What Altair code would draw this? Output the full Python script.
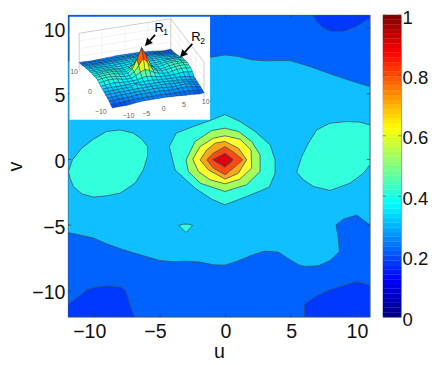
import altair as alt
import pandas as pd

# ---- axes and ticks
x_ticks = [-10, -5, 0, 5, 10]
y_ticks = [-10, -5, 0, 5, 10]
bar_ticks = [0, 0.2, 0.4, 0.6, 0.8, 1]

# ---- contour regions (u, v), painted in order
c_base = "#0062ff"
c_light = "#0fbfff"
c_aqua = "#33ffdd"
c_green = "#a3ff5c"
c_yellow = "#ffff2e"
c_orange = "#ffa51a"
c_redor = "#ff4a10"
c_red = "#dc0010"
c_dark = "#0038ff"

frame = [(-12, -12), (11, -12), (11, 11), (-12, 11)]
light_band = [(-12, -5.56), (-10.06, -5.99), (-9.05, -6.43), (-7.78, -6.88), (-6.26, -7.34), (-4.99, -7.70),
              (-3.97, -7.80), (-2.96, -7.75), (-1.94, -7.82), (-0.93, -8.03), (-0.04, -8.05), (0.85, -7.77),
              (1.87, -7.34), (3.0, -6.98), (4.02, -7.06), (4.91, -7.64), (5.55, -8.02), (6.05, -8.15),
              (7.07, -8.10), (7.96, -7.70), (8.67, -7.01), (8.59, -6.0), (8.41, -4.98), (8.97, -4.55),
              (9.99, -4.24), (10.98, -4.98), (11, -4.98), (11, 5.53), (10.95, 5.55), (9.48, 6.01), (8.21, 6.44),
              (6.43, 7.07), (4.91, 7.53), (3.13, 7.51), (1.99, 7.59), (0.98, 7.84), (-0.04, 7.96), (-1.13, 7.78),
              (-3, 7.5), (-12, 7.5)]
dark_bl = [(-12, -11.02), (-11.33, -10.56), (-10.57, -9.93), (-9.94, -9.73), (-9.05, -9.62), (-7.91, -9.73),
           (-7.58, -10.06), (-7.27, -11.07), (-6.92, -12), (-12, -12)]
dark_br = [(6.0, -12), (6.0, -11.02), (6.94, -10.38), (7.96, -9.93), (8.97, -9.6), (9.99, -9.29), (10.98, -9.57),
           (11, -9.57), (11, -12)]
dark_tr = [(6.64, 11), (6.94, 10.5), (7.45, 10.0), (8.08, 9.74), (8.97, 9.74), (9.98, 10.12), (10.75, 10.63),
           (11, 10.7), (11, 11)]
tri = [(-3.57, -5.03), (-3.21, -4.93), (-2.83, -4.93), (-2.5, -5.03), (-3.01, -5.56)]
blob_r = [(5.42, -0.97), (5.80, 0.22), (6.31, 1.24), (6.94, 2.25), (7.96, 2.76), (9.23, 2.89), (10.24, 2.84),
          (11, 2.63), (11, -0.41), (10.49, -1.05), (9.48, -1.81), (7.96, -2.36), (6.69, -2.06), (5.93, -1.55)]
blob_l = [(-11.97, -0.92), (-11.66, -0.03), (-10.95, 0.86), (-10.06, 1.54), (-9.05, 2.13), (-8.03, 2.25),
          (-7.02, 2.0), (-6.38, 1.54), (-5.93, 0.98), (-5.95, 0.22), (-6.26, -0.79), (-6.89, -1.81), (-8.03, -2.57),
          (-9.05, -2.77), (-10.06, -2.87), (-10.95, -2.62), (-11.59, -2.06), (-11.84, -1.43)]
peak_aqua = [(-0.04, 3.42), (-1.18, 2.96), (-2.45, 2.51), (-3.77, 2.0), (-4.28, 0.98), (-3.85, -0.79), (-2.32, -2.19),
             (-1.05, -3.03), (-0.04, -3.46), (1.61, -2.82), (3.34, -2.11), (3.77, -1.05), (3.77, -0.03), (3.39, 1.11),
             (2.25, 2.13), (1.10, 2.89)]
peak_green = [(-0.04, 2.38), (-1.05, 2.2), (-2.32, 1.37), (-3.01, -0.03), (-2.83, -0.92), (-1.94, -1.81),
              (-0.04, -2.44), (1.61, -1.93), (2.63, -0.92), (2.63, 0.35), (1.99, 1.37), (0.98, 2.13)]
peak_yellow = [(-0.04, 1.8), (-0.93, 1.62), (-1.94, 0.98), (-2.5, 0.02), (-2.07, -0.92), (-1.18, -1.55),
               (-0.04, -1.86), (1.10, -1.5), (1.99, -0.66), (1.94, 0.73), (1.10, 1.54)]
peak_orange = [(-0.04, 1.37), (-0.80, 1.24), (-1.43, 0.73), (-1.94, -0.03), (-1.31, -0.79), (-0.04, -1.5),
               (0.98, -1.05), (1.61, -0.03), (0.98, 0.86)]
peak_redor = [(-0.04, 0.98), (-0.93, 0.48), (-1.43, -0.03), (-0.93, -0.66), (-0.04, -1.17), (0.6, -0.66),
              (1.31, -0.03), (0.72, 0.48)]
peak_red = [(-0.04, 0.48), (-1, -0.03), (-0.04, -0.59), (0.6, -0.03)]

regions = [(frame, c_base), (light_band, c_light), (dark_bl, c_dark), (dark_br, c_dark), (dark_tr, c_dark),
           (tri, c_aqua), (blob_r, c_aqua), (blob_l, c_aqua), (peak_aqua, c_aqua), (peak_green, c_green),
           (peak_yellow, c_yellow), (peak_orange, c_orange), (peak_redor, c_redor), (peak_red, c_red)]

# ---- inset surface: z values, rows v = 10 .. -10, columns u = -10 .. 10
z_rows = [
    [.24, .24, .23, .23, .24, .24, .25, .25, .26, .26, .26, .26, .26, .26, .25, .24, .23, .22, .20, .20, .21],
    [.25, .25, .25, .25, .25, .25, .26, .26, .27, .27, .27, .27, .27, .27, .26, .25, .24, .23, .22, .22, .22],
    [.27, .27, .27, .27, .27, .27, .28, .28, .29, .29, .30, .29, .29, .29, .29, .28, .27, .26, .25, .24, .24],
    [.30, .30, .30, .30, .30, .31, .31, .31, .32, .32, .33, .32, .32, .32, .32, .31, .30, .29, .28, .27, .26],
    [.32, .32, .32, .32, .33, .33, .33, .33, .34, .34, .35, .34, .34, .34, .34, .33, .33, .32, .31, .30, .28],
    [.34, .34, .34, .34, .34, .34, .34, .35, .35, .36, .36, .36, .36, .35, .35, .35, .35, .34, .33, .32, .31],
    [.35, .35, .36, .36, .36, .36, .35, .35, .36, .37, .38, .37, .36, .36, .36, .36, .36, .35, .35, .34, .33],
    [.37, .37, .38, .38, .38, .37, .36, .35, .37, .39, .41, .39, .37, .36, .36, .37, .38, .39, .39, .39, .38],
    [.38, .39, .40, .41, .41, .40, .38, .36, .40, .46, .52, .47, .41, .36, .37, .38, .40, .41, .41, .41, .40],
    [.39, .41, .42, .43, .43, .41, .38, .37, .44, .58, .72, .60, .46, .38, .37, .39, .42, .43, .43, .43, .41],
    [.41, .42, .43, .44, .43, .41, .38, .39, .48, .72, 1.0, .78, .50, .39, .37, .38, .41, .43, .44, .44, .43],
    [.40, .42, .43, .43, .42, .40, .38, .38, .46, .60, .78, .64, .46, .40, .38, .39, .41, .43, .44, .44, .41],
    [.38, .40, .42, .42, .41, .38, .37, .37, .42, .49, .54, .50, .43, .39, .37, .36, .39, .41, .42, .42, .40],
    [.35, .36, .38, .38, .37, .36, .36, .36, .37, .40, .42, .40, .37, .36, .35, .35, .36, .37, .38, .37, .36],
    [.33, .34, .34, .34, .34, .34, .35, .35, .36, .36, .37, .36, .35, .34, .34, .33, .34, .33, .32, .30, .29],
    [.31, .31, .32, .32, .33, .33, .34, .40, .34, .34, .34, .34, .34, .34, .33, .32, .32, .31, .29, .28, .28],
    [.29, .30, .30, .31, .31, .32, .32, .33, .33, .33, .33, .33, .33, .33, .32, .31, .31, .31, .30, .27, .26],
    [.27, .27, .28, .29, .30, .30, .31, .31, .31, .31, .32, .32, .32, .30, .30, .30, .31, .31, .30, .27, .25],
    [.25, .25, .26, .26, .27, .28, .29, .30, .30, .30, .30, .30, .29, .28, .28, .29, .30, .30, .28, .26, .24],
    [.21, .22, .22, .23, .24, .25, .26, .26, .26, .26, .26, .26, .26, .25, .25, .25, .25, .25, .24, .23, .22],
    [.18, .19, .19, .19, .20, .22, .23, .24, .24, .24, .24, .24, .24, .23, .23, .22, .21, .21, .20, .19, .20],
]

# inset placement: floor corners of the 3-D box and height of z = 1, in the main chart's (u, v) units
floor_front = (-8.62, 3.39)
floor_right = (-1.64, 4.49)
floor_left = (-11.15, 6.69)
z_rise = 2.92
inset_box = (-11.88, 3.02, -1.18, 10.86)

inset_labels = [("10", -11.54, 6.69), ("0", -10.32, 5.12), ("\u221210", -9.5, 3.65), ("\u221210", -7.4, 3.27),
                ("\u22125", -6.05, 3.47), ("0", -4.71, 3.83), ("5", -3.16, 4.11), ("10", -1.51, 4.36)]
call_main = [("R", -5.06, 10.0), ("R", -2.25, 9.36)]
call_sub = [("1", -4.56, 9.67), ("2", -1.74, 9.03)]
arrows = [((-5.37, 9.49), (-6.13, 8.65)), ((-2.53, 8.8), (-3.46, 7.79))]


def jet(t):
    t = max(0.0, min(1.0, t))
    def ch(c):
        return max(0.0, min(1.0, 1.5 - abs(4 * t - c)))
    r, g, b = ch(3), ch(2), ch(1)
    return "#%02x%02x%02x" % (round(r * 255), round(g * 255), round(b * 255))


def proj(xv, yv, z=0.0):
    a = (xv + 10) / 20
    b = (yv + 10) / 20
    u = floor_front[0] + a * (floor_right[0] - floor_front[0]) + b * (floor_left[0] - floor_front[0])
    v = floor_front[1] + a * (floor_right[1] - floor_front[1]) + b * (floor_left[1] - floor_front[1]) + z * z_rise
    return u, v


def poly_frame(polys, stroke):
    rows = []
    for k, (pts, fill) in enumerate(polys):
        for i, (u, v) in enumerate(pts):
            rows.append(dict(poly=k, i=i, u=u, v=v, fill=fill, stroke=stroke))
    return pd.DataFrame(rows)


XS = alt.Scale(domain=[-12, 11], nice=False, zero=False)
YS = alt.Scale(domain=[-12, 11], nice=False, zero=False)
LBL = 19.6
AX = alt.Axis(values=x_ticks, grid=False, domain=False, ticks=False, labelFontSize=LBL, titleFontSize=LBL,
              labelFont="Liberation Sans", titleFont="Liberation Sans", labelColor="#111", titleColor="#111",
              labelPadding=5, titlePadding=2, titleFontWeight="normal", labelFlush=False,
              labelOffset={"condition": {"test": "datum.value < 0", "value": -5}, "value": 0})
AY = alt.Axis(values=y_ticks, grid=False, domain=False, ticks=False, labelFontSize=LBL, titleFontSize=LBL,
              labelFont="Liberation Sans", titleFont="Liberation Sans", labelColor="#111", titleColor="#111",
              labelPadding=3, titlePadding=6, titleFontWeight="normal", labelFlush=False, labelOffset=2)


def X(field):
    return alt.X(field, scale=XS, axis=AX, title="u")


def Y(field):
    return alt.Y(field, scale=YS, axis=AY, title="v")


def poly_layer(df, width, clip=True, **kw):
    return alt.Chart(df).mark_line(interpolate="linear-closed", strokeWidth=width, clip=clip, **kw).encode(
        x=X("u:Q"),
        y=Y("v:Q"),
        detail="poly:N",
        fill=alt.Fill("fill:N", scale=None),
        stroke=alt.Stroke("stroke:N", scale=None),
        order=alt.Order("i:Q"),
    )


def rule_layer(rows, color, width):
    df = pd.DataFrame(rows, columns=["x", "y", "x2", "y2"])
    return alt.Chart(df).mark_rule(color=color, strokeWidth=width).encode(
        x=X("x:Q"), x2="x2:Q",
        y=Y("y:Q"), y2="y2:Q",
    )


def text_layer(items, size, color):
    df = pd.DataFrame(items, columns=["t", "u", "v"])
    return alt.Chart(df).mark_text(fontSize=size, color=color, font="Liberation Sans").encode(
        x=X("u:Q"), y=Y("v:Q"), text="t:N",
    )


contours = poly_layer(poly_frame(regions, "#33556e"), 0.8)

# ticks on all four sides, pointing inward
tick_len = 0.24
tick_rows = []
for t in x_ticks:
    tick_rows += [(t, -12, t, -12 + tick_len), (t, 11, t, 11 - tick_len)]
for t in y_ticks:
    tick_rows += [(-12, t, -12 + tick_len, t), (11, t, 11 - tick_len, t)]
ticks = rule_layer(tick_rows, "#333", 0.7)

# inset
x0, y0, x1, y1 = inset_box
white = poly_layer(poly_frame([([(x0, y0), (x1, y0), (x1, y1), (x0, y1)], "#ffffff")], "#ffffff"), 0)

bk = proj(10, 10)
l_f, r_f = proj(-10, 10), proj(10, -10)
l_t, r_t, b_t = proj(-10, 10, 1), proj(10, -10, 1), proj(10, 10, 1)
box_rows = [(*l_f, *l_t), (*r_f, *r_t), (*bk, *b_t), (*l_t, *b_t), (*b_t, *r_t)]
faint_rows = []
for s in (-5, 0, 5):
    faint_rows += [(*proj(s, 10), *proj(s, 10, 1)), (*proj(10, s), *proj(10, s, 1))]
for h in (0.2, 0.4, 0.6, 0.8):
    faint_rows += [(*proj(-10, 10, h), *proj(10, 10, h)), (*proj(10, 10, h), *proj(10, -10, h))]
box = rule_layer(box_rows, "#9a9a9a", 0.5)
faint = rule_layer(faint_rows, "#e4e4e4", 0.5)

grid_v = list(range(10, -11, -1))
grid_u = list(range(-10, 11))
quads = []
for r in range(20):
    for c in range(20):
        corners = [(c, r), (c + 1, r), (c + 1, r + 1), (c, r + 1)]
        zs = [z_rows[b][a] for a, b in corners]
        pts = [proj(grid_u[a], grid_v[b], z_rows[b][a]) for a, b in corners]
        depth = grid_u[c] + grid_v[r + 1]
        quads.append((depth, pts, jet(sum(zs) / 4)))
quads.sort(key=lambda q: -q[0])
surface = poly_layer(poly_frame([(q[1], q[2]) for q in quads], "#0a2040"), 0.4, clip=False)

heads = []
shaft_rows = []
for (sx, sy), (tx, ty) in arrows:
    dx, dy = tx - sx, ty - sy
    n = (dx * dx + dy * dy) ** 0.5
    dx, dy = dx / n, dy / n
    hl, hw = 0.55, 0.27
    bx, by = tx - dx * hl, ty - dy * hl
    heads.append(([(tx, ty), (bx - dy * hw, by + dx * hw), (bx + dy * hw, by - dx * hw)], "#000000"))
    shaft_rows.append((sx, sy, bx, by))
arrow_heads = poly_layer(poly_frame(heads, "#000000"), 0.3, clip=False)
arrow_shafts = rule_layer(shaft_rows, "#000", 1.7)

main = alt.layer(
    contours, ticks, white, faint, box, surface,
    text_layer(inset_labels, 7, "#666"),
    arrow_shafts, arrow_heads,
    text_layer(call_main, 13, "#000"),
    text_layer(call_sub, 8.5, "#000"),
).properties(width=302, height=302)

# ---- colour bar: 64 steps of the colormap
n_steps = 64
bar_df = pd.DataFrame({
    "lo": [i / n_steps for i in range(n_steps)],
    "hi": [(i + 1) / n_steps for i in range(n_steps)],
    "c": [jet((i + 0.5) / n_steps) for i in range(n_steps)],
})
BS = alt.Scale(domain=[0, 1], nice=False, zero=False)
AB = alt.Axis(orient="right", values=bar_ticks, format="~g", grid=False, domain=False, ticks=False,
              labelFontSize=18.5, labelFont="Liberation Sans", labelColor="#111", labelPadding=1,
              labelFlush=False, labelOffset=2)
bar = alt.Chart(bar_df).mark_rect(strokeWidth=0.3).encode(
    y=alt.Y("lo:Q", scale=BS, title=None, axis=AB),
    y2="hi:Q",
    color=alt.Color("c:N", scale=None),
    stroke=alt.Stroke("c:N", scale=None),
)
bt_rows = []
for t in bar_ticks:
    bt_rows += [(0, t, 0.16, t), (1, t, 0.84, t)]
bt_df = pd.DataFrame(bt_rows, columns=["x", "y", "x2", "y2"])
XB = alt.Scale(domain=[0, 1], nice=False, zero=False)
bar_ticks_layer = alt.Chart(bt_df).mark_rule(color="#555", strokeWidth=0.7).encode(
    x=alt.X("x:Q", scale=XB, axis=None), x2="x2:Q",
    y=alt.Y("y:Q", scale=BS, axis=AB, title=None), y2="y2:Q",
)
bar_chart = alt.layer(bar, bar_ticks_layer).properties(width=18, height=302)

chart = alt.hconcat(main, bar_chart, spacing=11).properties(
    padding={"left": 60, "top": 7, "right": 360, "bottom": 343},
    autosize=alt.AutoSizeParams(type="none"),
    background="white",
).configure_view(
    stroke="#5a6a78", strokeWidth=0.8
).configure_concat(spacing=11)

chart.save("out.html", embed_options={"renderer": "svg", "actions": False})
